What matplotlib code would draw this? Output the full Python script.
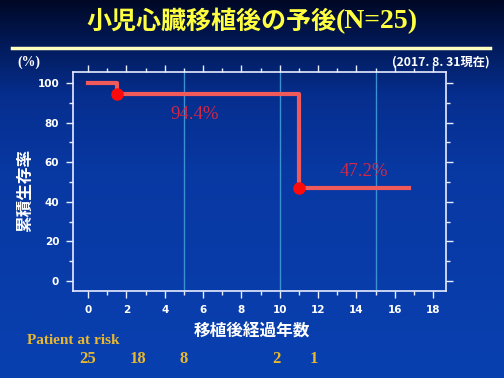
import numpy as np
import matplotlib
matplotlib.use("Agg")
import matplotlib.pyplot as plt
from matplotlib.colors import LinearSegmentedColormap
import matplotlib.transforms as mtransforms

# ---- data ----
times = [0, 1.5, 11, 16.75]
survival = [100, 94.4, 47.2, 47.2]
event_times = [1.5, 11]
event_surv = [94.4, 47.2]
surv_labels = ["94.4%", "47.2%"]
label_x = [4.3, 13.1]
label_y = [84.3, 55.5]
ref_lines = [5, 10, 15]
risk_times = [0, 2.6, 5.0, 9.8, 11.8]
risk_counts = ["25", "18", "8", "2", "1"]
xticks = list(range(0, 19, 2))
yticks = list(range(0, 101, 20))

plt.rcParams['font.family'] = ['Noto Sans CJK JP', 'DejaVu Sans']

fig = plt.figure(figsize=(5.04, 3.78), dpi=100)

# background gradient
bg = fig.add_axes([0, 0, 1, 1], zorder=-10)
cmap = LinearSegmentedColormap.from_list(
    "bg", [(0.0, "#000826"), (0.12, "#021a5a"), (0.25, "#062e8e"), (0.45, "#0838a2"), (1.0, "#0840b0")])
grad = np.linspace(0, 1, 256).reshape(-1, 1)
bg.imshow(grad, aspect="auto", cmap=cmap, extent=[0, 1, 0, 1], origin="upper")
bg.set_axis_off()

# title (two fonts, placed side by side)
renderer = fig.canvas.get_renderer()
t1 = fig.text(0.165, 0.942, "小児心臓移植後の予後", color="#ffff40", fontsize=18,
              fontweight="bold", ha="left", va="center", family=['Noto Sans CJK JP'])
t2 = fig.text(0.66, 0.942, "(N=25)", color="#ffff40", fontsize=20,
              fontweight="bold", ha="left", va="center", family=['Liberation Serif'])
w1 = t1.get_window_extent(renderer).width
w2 = t2.get_window_extent(renderer).width
total = w1 + w2
x0 = (504 / 2 - total / 2) / 504
t1.set_x(x0)
t2.set_x(x0 + w1 / 504)
fig.add_artist(plt.Line2D([0.024, 0.972], [0.873, 0.873], color="#ffffc0", lw=2.5))

fig.text(0.034, 0.835, "(%)", color="white", fontsize=10, fontweight="bold",
         ha="left", va="center", family=['Liberation Serif'])
fig.text(0.972, 0.835, "(2017. 8. 31現在)", color="white", fontsize=8.8, fontweight="bold",
         ha="right", va="center")

ax = fig.add_axes([0.145, 0.230, 0.740, 0.580])
ax.set_facecolor("none")
ax.set_xlim(-0.78, 18.67)
ax.set_ylim(-5.05, 105.6)

for s in ax.spines.values():
    s.set_color("#e8ecff")
    s.set_linewidth(1.2)

for xv in ref_lines:
    ax.axvline(xv, color="#3a90d0", lw=1.0, zorder=1)

ax.step(times, survival, where="post", color="#f05a5a", lw=3, zorder=3)
ax.plot(event_times, event_surv, "o", color="#ff0a0a", ms=8, zorder=4)

for lx, ly, t in zip(label_x, label_y, surv_labels):
    ax.text(lx, ly, t, color="#d02848", fontsize=13.5, ha="left", va="center",
            family=['Liberation Serif'])

ax.set_xticks(xticks)
ax.set_xticks(range(0, 19), minor=True)
ax.set_yticks(yticks)
ax.set_yticks(range(0, 101, 10), minor=True)
ax.set_yticklabels([str(v) for v in yticks])
ax.set_xticklabels([str(v) for v in xticks])
ax.tick_params(which="both", direction="out", colors="#e8ecff", top=True, right=True,
               labeltop=False, labelright=False)
ax.tick_params(which="major", length=5, width=1, labelsize=7.5, pad=5)
ax.tick_params(which="minor", length=3, width=1)
for lab in ax.get_xticklabels() + ax.get_yticklabels():
    lab.set_fontweight("bold")
    lab.set_color("white")
    lab.set_family(['DejaVu Sans'])

fig.text(0.5, 0.122, "移植後経過年数", color="white", fontsize=12, fontweight="bold",
         ha="center", va="center")
fig.text(0.05, 0.497, "累積生存率", color="white", fontsize=12, fontweight="bold",
         ha="center", va="center", rotation=90)

fig.text(0.053, 0.1, "Patient at risk", color="#e8b830", fontsize=11, fontweight="bold",
         ha="left", va="center", family=['Liberation Serif'])
trans = mtransforms.blended_transform_factory(ax.transData, fig.transFigure)
for rx, rc in zip(risk_times, risk_counts):
    ax.text(rx, 0.05, rc, transform=trans, color="#e8b830", fontsize=12, fontweight="bold",
            ha="center", va="center", family=['Liberation Serif'], clip_on=False)

fig.savefig("out.png", dpi=100)
